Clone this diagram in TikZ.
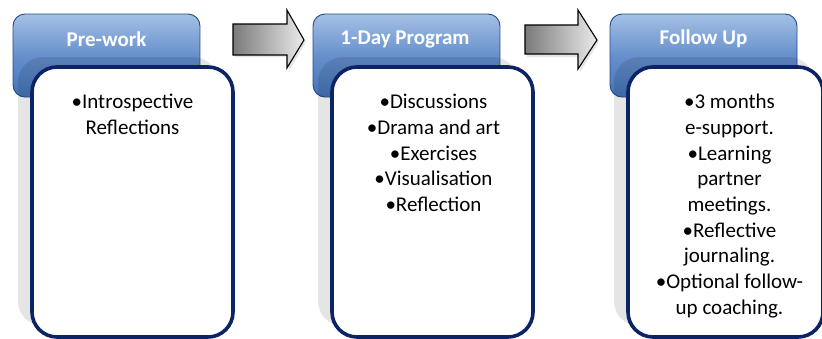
\documentclass[tikz,border=0pt]{standalone}
\usepackage{fontspec}
\setmainfont{Carlito}
\usetikzlibrary{shadings}
\definecolor{hdrtop}{HTML}{A5C0E5}
\definecolor{hdrmid}{HTML}{6690CC}
\definecolor{hdrbot}{HTML}{4374B8}
\definecolor{hdrline}{HTML}{254A85}
\definecolor{navy}{HTML}{0C2466}
\tikzset{
  header/.style={rounded corners=12pt, draw=hdrline, line width=0.9pt,
    top color=hdrtop, bottom color=hdrbot, middle color=hdrmid,
    minimum width=187pt, minimum height=83pt, inner sep=0pt},
  hdrtext/.style={text=white, font=\fontsize{21}{25}\selectfont\bfseries, inner sep=0pt},
  bodybox/.style={rounded corners=25pt, draw=navy, line width=3.6pt, fill=white,
    minimum width=201pt, minimum height=270pt, inner sep=0pt},
  bodyshadow/.style={rounded corners=25pt, fill=black, fill opacity=0.10},
  bodytext/.style={align=center, anchor=north, inner sep=0pt,
    font=\fontsize{21}{25.7}\selectfont},
  blockarrow/.style={draw=black, line width=1.1pt, line join=miter,
    left color=black!52, right color=black!8},
  arrowshadow/.style={fill=black, fill opacity=0.10},
}
\begin{document}
\begin{tikzpicture}[x=1pt, y=-1pt]
\useasboundingbox (0,0) rectangle (822,338);
\begin{scope}
\clip (0,0) rectangle (822,338);
% ---------- headers ----------
\node[header] (h1) at (106.5,55.5) {};
\node[header] (h2) at (406.5,55.5) {};
\node[header] (h3) at (703.5,55.5) {};
\node[hdrtext] (t1) at (106.5,39) {Pre-work};
\node[hdrtext] (t2) at (405,39) {1-Day Program};
\node[hdrtext] (t3) at (703.5,39) {Follow Up};
% ---------- shadows ----------
\fill[bodyshadow] (18,57) rectangle (218,326);
\fill[bodyshadow] (318,57) rectangle (518,326);
\fill[bodyshadow] (614,57) rectangle (814,326);
% ---------- body boxes ----------
\node[bodybox] (b1) at (132.5,202) {};
\node[bodybox] (b2) at (432.5,202) {};
\node[bodybox, minimum width=195pt] (b3) at (725.5,202) {};
\node[bodytext] (x1) at (132.5,94) {•Introspective\\Reflections};
\node[bodytext] (x2) at (433.5,94) {•Discussions\\•Drama and art\\•Exercises\\•Visualisation\\•Reflection};
\node[bodytext] (x3) at (729.5,94) {•3 months\\e-support.\\•Learning\\partner\\meetings.\\•Reflective\\journaling.\\•Optional follow-\\up coaching.};
% ---------- block arrows ----------
\fill[arrowshadow] (235,27) -- (289,27) -- (289,13) -- (306,42) -- (289,71) -- (289,57) -- (235,57) -- cycle;
\path[blockarrow] (233,24) -- (287,24) -- (287,10) -- (304,40) -- (287,68) -- (287,55) -- (233,55) -- cycle;
\fill[arrowshadow] (527,28) -- (580,28) -- (580,13) -- (599,42) -- (580,72) -- (580,57) -- (527,57) -- cycle;
\path[blockarrow] (525,25) -- (578,25) -- (578,10) -- (597,40) -- (578,69) -- (578,54) -- (525,54) -- cycle;
\end{scope}
\end{tikzpicture}
\end{document}
